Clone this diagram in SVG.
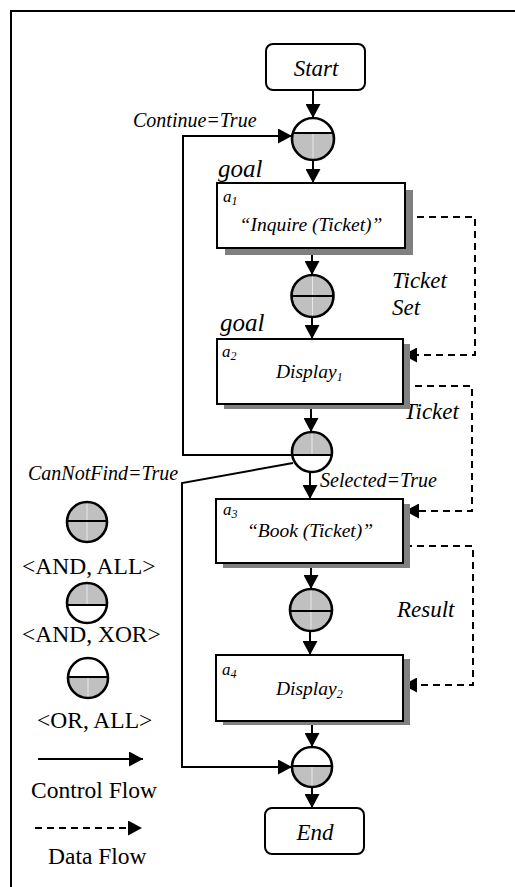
<svg xmlns="http://www.w3.org/2000/svg" width="515" height="887" viewBox="0 0 515 887">
  <style>
    text { font-family: "Liberation Serif", "Times New Roman", serif; fill: #000; }
    .it { font-style: italic; }
    .lbl { font-size: 20px; }
    .big { font-size: 23px; }
    .goal { font-size: 25px; }
    .node { font-size: 19.5px; }
    .idx { font-size: 17px; }
    .leg { font-size: 23.5px; }
    .box { fill: #fff; stroke: #000; stroke-width: 2; }
    .shadow { fill: #808080; }
    .term { fill: #fff; stroke: #000; stroke-width: 2; }
    .ring { fill: none; stroke: #000; stroke-width: 2.6; }
    .gray { fill: #c0c0c0; }
    .chord { stroke: #000; stroke-width: 2.2; }
    .seam { stroke: #e8e8e8; stroke-width: 1; }
    .ctl { fill: none; stroke: #000; stroke-width: 2; marker-end: url(#head); }
    .data { fill: none; stroke: #000; stroke-width: 2; stroke-dasharray: 7 5; marker-end: url(#head); }
  </style>
  <defs>
    <marker id="head" markerUnits="userSpaceOnUse" markerWidth="15" markerHeight="15" refX="14" refY="7.5" orient="auto">
      <path d="M0,0 L14,7.5 L0,15 Z" fill="#000"/>
    </marker>
  </defs>

  <rect width="515" height="887" fill="#fff"/>
  <!-- outer frame (only left and top edges fall inside the page) -->
  <rect x="11" y="11" width="530" height="900" fill="none" stroke="#000" stroke-width="2"/>

  <!-- connectors -->
  <g id="connectors">
    <!-- control flow -->
    <path class="ctl" d="M313,90 V118"/>
    <path class="ctl" d="M313,160 V183"/>
    <path class="ctl" d="M312,248 V275"/>
    <path class="ctl" d="M312,317 V339"/>
    <path class="ctl" d="M311,404 V432"/>
    <path class="ctl" d="M310,472 V499"/>
    <path class="ctl" d="M311,563 V589"/>
    <path class="ctl" d="M310,631 V655"/>
    <path class="ctl" d="M312,721 V747"/>
    <path class="ctl" d="M312,787 V808"/>
    <!-- loop back: Continue=True -->
    <path class="ctl" d="M292,455 H183 V136 H292"/>
    <!-- CanNotFind=True -->
    <path class="ctl" d="M293,463 L182,483 V767 H292"/>
    <!-- data flow -->
    <path class="data" d="M405,217 H475 V355 H403"/>
    <path class="data" d="M403,386 H472 V511 H405"/>
    <path class="data" d="M405,546 H473 V685 H403"/>
  </g>

  <!-- connector labels -->
  <g id="labels">
    <text class="it lbl" x="133" y="127">Continue=True</text>
    <text class="it lbl" x="28" y="480">CanNotFind=True</text>
    <text class="it lbl" x="320" y="487">Selected=True</text>
    <text class="it big" x="392" y="288">Ticket</text>
    <text class="it big" x="392" y="315">Set</text>
    <text class="it big" x="404" y="419">Ticket</text>
    <text class="it big" x="397" y="617">Result</text>
  </g>

  <!-- start / end -->
  <g id="start">
    <rect class="term" x="266" y="44" width="99" height="46" rx="7"/>
    <text class="it big" x="316" y="76" text-anchor="middle">Start</text>
  </g>
  <g id="end">
    <rect class="term" x="265" y="808" width="99" height="46" rx="7"/>
    <text class="it big" x="315" y="840" text-anchor="middle">End</text>
  </g>

  <!-- activities -->
  <g id="a1">
    <text class="it goal" x="218" y="177">goal</text>
    <rect class="shadow" x="225" y="190" width="188" height="65"/>
    <rect class="box" x="217" y="183" width="188" height="65"/>
    <text class="it idx" x="223" y="202">a<tspan font-size="12" dy="3">1</tspan></text>
    <text class="it node" x="311" y="231" text-anchor="middle">“Inquire (Ticket)”</text>
  </g>
  <g id="a2">
    <text class="it goal" x="220" y="331">goal</text>
    <rect class="shadow" x="224" y="344" width="186" height="65"/>
    <rect class="box" x="217" y="339" width="186" height="65"/>
    <text class="it idx" x="222" y="357">a<tspan font-size="12" dy="3">2</tspan></text>
    <text class="it node" x="276" y="378">Display<tspan font-size="12" dy="3">1</tspan></text>
  </g>
  <g id="a3">
    <rect class="shadow" x="223" y="504" width="187" height="64"/>
    <rect class="box" x="216" y="499" width="187" height="64"/>
    <text class="it idx" x="223" y="515">a<tspan font-size="12" dy="3">3</tspan></text>
    <text class="it node" x="310" y="537" text-anchor="middle">“Book (Ticket)”</text>
  </g>
  <g id="a4">
    <rect class="shadow" x="223" y="659" width="187" height="66"/>
    <rect class="box" x="216" y="655" width="187" height="66"/>
    <text class="it idx" x="222" y="675">a<tspan font-size="12" dy="3">4</tspan></text>
    <text class="it node" x="276" y="695">Display<tspan font-size="12" dy="3">2</tspan></text>
  </g>

  <!-- gates -->
  <g id="g1">
    <circle cx="313" cy="139" r="21" fill="#fff"/>
    <path class="gray" d="M292.9,133 A21,21 0 1 0 333.1,133 Z"/>
    <line class="seam" x1="313" y1="134" x2="313" y2="159"/>
    <line class="chord" x1="292.9" y1="133" x2="333.1" y2="133"/>
    <circle class="ring" cx="313" cy="139" r="21"/>
  </g>
  <g id="g2">
    <circle class="gray" cx="312.5" cy="296" r="21"/>
    <line class="seam" x1="312.5" y1="276" x2="312.5" y2="316"/>
    <line class="chord" x1="291.5" y1="296" x2="333.5" y2="296"/>
    <circle class="ring" cx="312.5" cy="296" r="21"/>
  </g>
  <g id="g3">
    <circle cx="312" cy="452" r="20" fill="#fff"/>
    <path class="gray" d="M292.2,455 A20,20 0 1 1 331.8,455 Z"/>
    <line class="seam" x1="312" y1="433" x2="312" y2="454"/>
    <line class="chord" x1="292.2" y1="455" x2="331.8" y2="455"/>
    <circle class="ring" cx="312" cy="452" r="20"/>
  </g>
  <g id="g4">
    <circle class="gray" cx="311" cy="610" r="21"/>
    <line class="seam" x1="311" y1="590" x2="311" y2="630"/>
    <line class="chord" x1="290" y1="611" x2="332" y2="611"/>
    <circle class="ring" cx="311" cy="610" r="21"/>
  </g>
  <g id="g5">
    <circle cx="312" cy="767" r="20" fill="#fff"/>
    <path class="gray" d="M292,766 A20,20 0 1 0 332,766 Z"/>
    <line class="seam" x1="312" y1="767" x2="312" y2="786"/>
    <line class="chord" x1="292" y1="766" x2="332" y2="766"/>
    <circle class="ring" cx="312" cy="767" r="20"/>
  </g>

  <!-- legend -->
  <g id="legend-and-all">
    <circle class="gray" cx="87" cy="522" r="20"/>
    <line class="seam" x1="87" y1="503" x2="87" y2="541"/>
    <line class="chord" x1="67" y1="521" x2="107" y2="521"/>
    <circle class="ring" cx="87" cy="522" r="20"/>
    <text class="leg" x="22" y="574">&lt;AND, ALL&gt;</text>
  </g>
  <g id="legend-and-xor">
    <circle cx="87" cy="603" r="20" fill="#fff"/>
    <path class="gray" d="M67.1,605 A20,20 0 1 1 106.9,605 Z"/>
    <line class="seam" x1="87" y1="584" x2="87" y2="604"/>
    <line class="chord" x1="67.1" y1="605" x2="106.9" y2="605"/>
    <circle class="ring" cx="87" cy="603" r="20"/>
    <text class="leg" x="22" y="642">&lt;AND, XOR&gt;</text>
  </g>
  <g id="legend-or-all">
    <circle cx="88" cy="678" r="20" fill="#fff"/>
    <path class="gray" d="M68,677 A20,20 0 1 0 108,677 Z"/>
    <line class="seam" x1="88" y1="678" x2="88" y2="697"/>
    <line class="chord" x1="68" y1="677" x2="108" y2="677"/>
    <circle class="ring" cx="88" cy="678" r="20"/>
    <text class="leg" x="37" y="728">&lt;OR, ALL&gt;</text>
  </g>
  <g id="legend-control">
    <path class="ctl" d="M38,759 H143"/>
    <text class="leg" x="31" y="798">Control Flow</text>
  </g>
  <g id="legend-data">
    <path class="data" d="M35,828 H142"/>
    <text class="leg" x="48" y="864">Data Flow</text>
  </g>
</svg>
